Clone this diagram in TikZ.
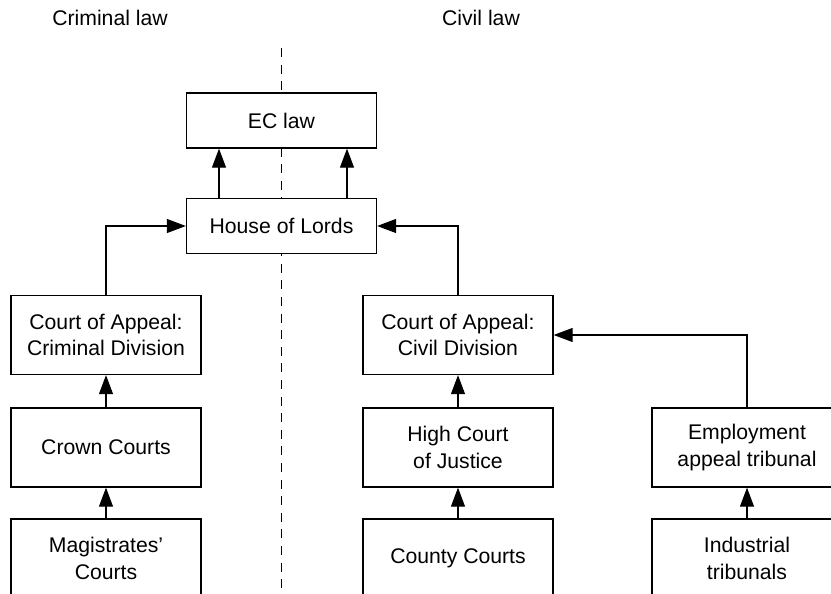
\documentclass[tikz,border=0pt]{standalone}
\usepackage{fontspec}
\setmainfont{Liberation Sans}
\usetikzlibrary{arrows.meta}
\tikzset{
	court/.style={draw, line width=0.65pt, fill=white, minimum width=95pt, minimum height=39.5pt, align=center, inner sep=2pt, font=\fontsize{10.6}{13.3}\selectfont},
	wide/.style={court, minimum height=27.5pt},
	title/.style={font=\fontsize{10.6}{13.3}\selectfont},
	arr/.style={line width=0.55pt, -{Triangle[length=9.5pt,width=7pt]}},
	divide/.style={line width=0.5pt, dash pattern=on 4.5pt off 3.8pt}
}

\begin{document}
\begin{tikzpicture}[x=0.5pt, y=-0.5pt]
			%%%%% START %%%%%
			\clip (0, 0) rectangle (831, 594);
			
			\node[title] (crimlaw) at (110, 18) {Criminal law};
			\node[title] (civlaw) at (481, 18) {Civil law};
			
			\coordinate (top) at (281, 48);
			\coordinate (bottom) at (281, 600);
			\draw[divide] (top) -- (bottom);
			
			\node[wide] (ec) at (281.5, 120.5) {EC law};
			\node[wide] (lords) at (281.5, 226) {House of Lords};
			
			\node[court] (crimappeal) at (106, 335) {Court of Appeal:\\Criminal Division};
			\node[court] (crown) at (106, 447.5) {Crown Courts};
			\node[court] (magistrates) at (106, 558.5) {Magistrates'\\Courts};
			
			\node[court] (civappeal) at (458, 335) {Court of Appeal:\\Civil Division};
			\node[court] (high) at (458, 447.5) {High Court\\of Justice};
			\node[court] (county) at (458, 558.5) {County Courts};
			
			\node[court] (employment) at (747, 447.5) {Employment\\appeal tribunal};
			\node[court] (industrial) at (747, 558.5) {Industrial\\tribunals};
			
			\draw[arr] ([xshift=-31.25pt]lords.north) -- ([xshift=-31.25pt]ec.south);
			\draw[arr] ([xshift=32.75pt]lords.north) -- ([xshift=32.75pt]ec.south);
			
			\draw[arr] (crimappeal.north) |- (lords.west);
			\draw[arr] (civappeal.north) |- (lords.east);
			\draw[arr] (employment.north) |- (civappeal.east);
			
			\draw[arr] (crown) -- (crimappeal);
			\draw[arr] (magistrates) -- (crown);
			\draw[arr] (high) -- (civappeal);
			\draw[arr] (county) -- (high);
			\draw[arr] (industrial) -- (employment);
			%%%%% END %%%%%
		\end{tikzpicture}
\end{document}
